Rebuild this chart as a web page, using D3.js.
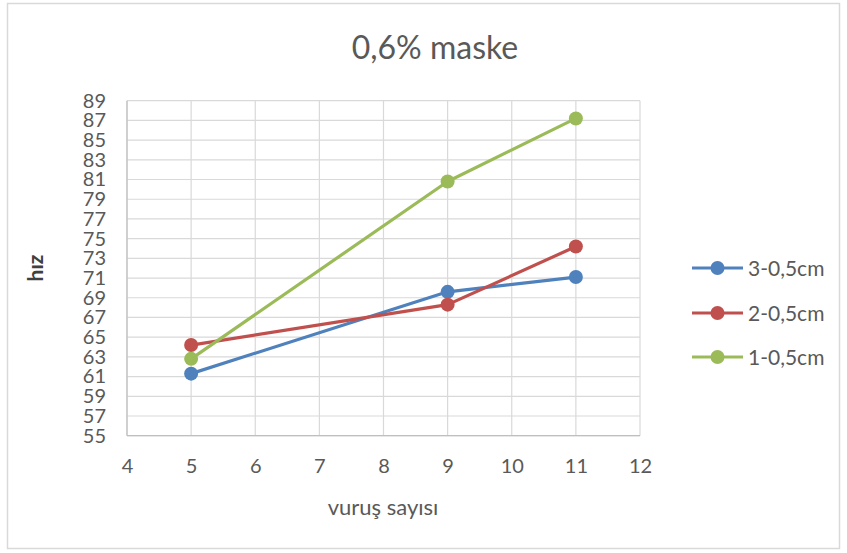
<!DOCTYPE html>
<html>
<head>
<meta charset="utf-8">
<script src="https://cdn.jsdelivr.net/npm/d3@7"></script>
<style>
  html, body { margin: 0; padding: 0; background: #fff; }
  svg { display: block; font-family: Lato, "Open Sans", sans-serif; }
</style>
</head>
<body>
<svg id="chart" width="847" height="553"></svg>
<script>
// Hit counts on the x axis
const xValues = [5, 9, 11];

// Speed readings for each series
const seriesNames = ["3-0,5cm", "2-0,5cm", "1-0,5cm"];
const seriesColors = ["#4F81BD", "#C0504D", "#9BBB59"];
const values3 = [61.3, 69.6, 71.1];
const values2 = [64.2, 68.3, 74.2];
const values1 = [62.8, 80.8, 87.2];

// Axis ticks
const xTicks = [4, 5, 6, 7, 8, 9, 10, 11, 12];
const yTicks = [55, 57, 59, 61, 63, 65, 67, 69, 71, 73, 75, 77, 79, 81, 83, 85, 87, 89];

const title = "0,6% maske";
const xTitle = "vuruş sayısı";
const yTitle = "hız";

const series = seriesNames.map((name, i) => ({
  name,
  color: seriesColors[i],
  points: xValues.map((x, j) => ({ x, y: [values3, values2, values1][i][j] }))
}));

const svg = d3.select("#chart");
const W = 847, H = 553;
const plot = { left: 127, right: 640, top: 100.7, bottom: 435.7 };

// Outer frame of the chart
svg.append("rect")
  .attr("x", 7.5).attr("y", 3.5)
  .attr("width", W - 15).attr("height", H - 8)
  .attr("fill", "#fff").attr("stroke", "#D9D9D9").attr("stroke-width", 1.5);

const x = d3.scaleLinear().domain([4, 12]).range([plot.left, plot.right]);
const y = d3.scaleLinear().domain([55, 89]).range([plot.bottom, plot.top]);

// Gridlines
const grid = svg.append("g");
grid.selectAll("line.h").data(yTicks).join("line")
  .attr("x1", plot.left).attr("x2", plot.right)
  .attr("y1", d => y(d)).attr("y2", d => y(d))
  .attr("stroke", "#D9D9D9").attr("stroke-width", 1.2);
grid.selectAll("line.v").data(xTicks).join("line")
  .attr("y1", plot.top).attr("y2", plot.bottom)
  .attr("x1", d => x(d)).attr("x2", d => x(d))
  .attr("stroke", "#D9D9D9").attr("stroke-width", 1.2);

// Axis lines
svg.append("line")
  .attr("x1", plot.left).attr("x2", plot.right)
  .attr("y1", plot.bottom).attr("y2", plot.bottom)
  .attr("stroke", "#BFBFBF").attr("stroke-width", 1.2);
svg.append("line")
  .attr("x1", plot.left).attr("x2", plot.left)
  .attr("y1", plot.top).attr("y2", plot.bottom)
  .attr("stroke", "#BFBFBF").attr("stroke-width", 1.2);

// Axes (labels only)
const yAxis = d3.axisLeft(y).tickValues(yTicks).tickSize(0).tickPadding(21);
const gy = svg.append("g").attr("transform", `translate(${plot.left},0)`).call(yAxis);
gy.select(".domain").remove();
gy.selectAll("text").attr("fill", "#595959").style("font-size", "20px")
  .style("font-family", "Lato, 'Open Sans', sans-serif");

const xAxis = d3.axisBottom(x).tickValues(xTicks).tickSize(0).tickPadding(23);
const gx = svg.append("g").attr("transform", `translate(0,${plot.bottom})`).call(xAxis);
gx.select(".domain").remove();
gx.selectAll("text").attr("fill", "#595959").style("font-size", "20px")
  .style("font-family", "Lato, 'Open Sans', sans-serif");

// Series lines and markers
const line = d3.line().x(d => x(d.x)).y(d => y(d.y));
series.forEach(s => {
  svg.append("path").datum(s.points)
    .attr("d", line).attr("fill", "none")
    .attr("stroke", s.color).attr("stroke-width", 3.2)
    .attr("stroke-linejoin", "round");
  svg.selectAll(null).data(s.points).join("circle")
    .attr("cx", d => x(d.x)).attr("cy", d => y(d.y))
    .attr("r", 7).attr("fill", s.color);
});

// Titles
svg.append("text").attr("x", 435).attr("y", 59)
  .attr("text-anchor", "middle").attr("fill", "#595959")
  .style("font-size", "32px").text(title);
svg.append("text").attr("x", 383).attr("y", 515)
  .attr("text-anchor", "middle").attr("fill", "#595959")
  .style("font-size", "22px").text(xTitle);
svg.append("text")
  .attr("transform", "translate(43,268) rotate(-90)")
  .attr("text-anchor", "middle").attr("fill", "#404040")
  .style("font-size", "21px").style("font-weight", "bold").text(yTitle);

// Legend
const legend = svg.append("g");
const legendY = [268, 313, 357];
series.forEach((s, i) => {
  const g = legend.append("g").attr("transform", `translate(692,${legendY[i]})`);
  g.append("line").attr("x1", 0).attr("x2", 51).attr("y1", 0).attr("y2", 0)
    .attr("stroke", s.color).attr("stroke-width", 3.2);
  g.append("circle").attr("cx", 25.5).attr("cy", 0).attr("r", 7).attr("fill", s.color);
  g.append("text").attr("x", 56).attr("y", 7.5).attr("fill", "#595959")
    .style("font-size", "21px").text(s.name);
});
</script>
</body>
</html>
